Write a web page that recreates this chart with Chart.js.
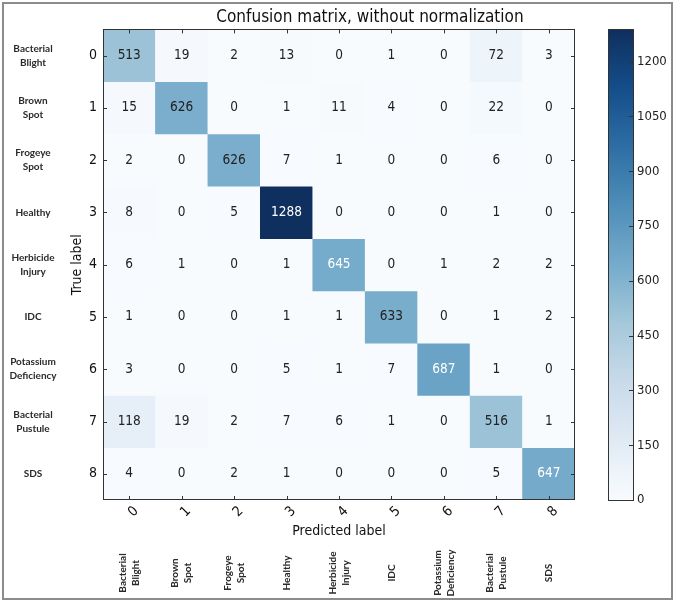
<!DOCTYPE html>
<html><head><meta charset="utf-8">
<script src="https://cdn.jsdelivr.net/npm/chart.js@4/dist/chart.umd.min.js"></script>
<style>html,body{margin:0;padding:0;background:#fff}</style>
</head><body>
<canvas id="c" width="677" height="606" style="width:677px;height:606px;display:block"></canvas>
<script>
const categories = ['0','1','2','3','4','5','6','7','8'];
const classNames = [['Bacterial','Blight'],['Brown','Spot'],['Frogeye','Spot'],['Healthy'],['Herbicide','Injury'],['IDC'],['Potassium','Deficiency'],['Bacterial','Pustule'],['SDS']];
const row0 = [513, 19, 2, 13, 0, 1, 0, 72, 3];
const row1 = [15, 626, 0, 1, 11, 4, 0, 22, 0];
const row2 = [2, 0, 626, 7, 1, 0, 0, 6, 0];
const row3 = [8, 0, 5, 1288, 0, 0, 0, 1, 0];
const row4 = [6, 1, 0, 1, 645, 0, 1, 2, 2];
const row5 = [1, 0, 0, 1, 1, 633, 0, 1, 2];
const row6 = [3, 0, 0, 5, 1, 7, 687, 1, 0];
const row7 = [118, 19, 2, 7, 6, 1, 0, 516, 1];
const row8 = [4, 0, 2, 1, 0, 0, 0, 5, 647];
const matrix = [row0,row1,row2,row3,row4,row5,row6,row7,row8];
const colorbarTicks = [0,150,300,450,600,750,900,1050,1200];
const chartTitle = 'Confusion matrix, without normalization';
const xTitle = 'Predicted label';
const yTitle = 'True label';

const maxVal = Math.max(...matrix.flat());
const FF = '"DejaVu Sans Condensed", "DejaVu Sans", sans-serif';
const BLUES = [[247,251,255],[222,235,247],[198,219,239],[158,202,225],[107,174,214],[66,146,198],[33,113,181],[8,81,156],[8,48,107]];
function blues(t){
  t = Math.max(0, Math.min(1, t));
  const p = t*8, i = Math.min(7, Math.floor(p)), f = p - i;
  const a = BLUES[i], b = BLUES[i+1];
  const c = a.map((v,k)=>v+(b[k]-v)*f);
  const g = 0.3*c[0]+0.59*c[1]+0.11*c[2], s = 0.8;
  return 'rgb(' + c.map(v=>Math.round(g+(v-g)*s)).join(',') + ')';
}

const datasets = matrix.map((row,i)=>({
  label: categories[i],
  data: row.map((v,j)=>({x: categories[j], y: [i-0.5, i+0.5], v: v})),
  backgroundColor: ctx => blues(ctx.raw.v / maxVal),
  borderWidth: 0,
  barPercentage: 1,
  categoryPercentage: 1,
  grouped: false
}));

const decor = {
  id: 'decor',
  afterDatasetsDraw(chart){
    const ctx = chart.ctx;
    const {left, right, top, bottom} = chart.chartArea;
    const xs = chart.scales.x, ys = chart.scales.y, cb = chart.scales.cb;
    ctx.save();
    // cell values
    ctx.font = '13.5px ' + FF;
    ctx.textAlign = 'center'; ctx.textBaseline = 'middle';
    chart.data.datasets.forEach((ds,i)=>{
      chart.getDatasetMeta(i).data.forEach((el,j)=>{
        const v = ds.data[j].v;
        const p = el.getProps(['x','y','base'], true);
        ctx.fillStyle = v > maxVal/2 ? '#ffffff' : '#222222';
        ctx.fillText(String(v), p.x, (p.y + p.base)/2);
      });
    });
    // axes frame
    ctx.strokeStyle = '#333'; ctx.lineWidth = 1;
    ctx.strokeRect(Math.round(left)+0.5, Math.round(top)+0.5, Math.round(right-left)-1, Math.round(bottom-top)-1);
    // inward ticks
    ctx.beginPath();
    categories.forEach((c,i)=>{
      const x = Math.round(xs.getPixelForValue(i))+0.5;
      ctx.moveTo(x, bottom); ctx.lineTo(x, bottom-4);
      ctx.moveTo(x, top); ctx.lineTo(x, top+4);
      const y = Math.round(ys.getPixelForValue(i))+0.5;
      ctx.moveTo(left, y); ctx.lineTo(left+4, y);
      ctx.moveTo(right, y); ctx.lineTo(right-4, y);
    });
    ctx.stroke();
    // colorbar
    const cbL = right + 33, cbR = right + 58;
    const yT = cb.getPixelForValue(maxVal), yB = cb.getPixelForValue(0);
    const grad = ctx.createLinearGradient(0, yB, 0, yT);
    for (let k=0;k<=32;k++) grad.addColorStop(k/32, blues(k/32));
    ctx.fillStyle = grad;
    ctx.fillRect(cbL, yT, cbR-cbL, yB-yT);
    ctx.strokeStyle = '#333';
    ctx.strokeRect(Math.round(cbL)+0.5, Math.round(yT)+0.5, Math.round(cbR-cbL), Math.round(yB-yT));
    ctx.beginPath();
    colorbarTicks.forEach(t=>{
      const y = Math.round(cb.getPixelForValue(t))+0.5;
      ctx.moveTo(cbR, y); ctx.lineTo(cbR-4, y);
    });
    ctx.stroke();
    // class names
    ctx.font = '700 10px Lato, "Open Sans", sans-serif';
    ctx.fillStyle = '#2a2a2a';
    classNames.forEach((lines,i)=>{
      const y = ys.getPixelForValue(i);
      lines.forEach((ln,k)=>ctx.fillText(ln, 33, y + (k-(lines.length-1)/2)*14));
    });
    classNames.forEach((lines,i)=>{
      const x = xs.getPixelForValue(i);
      ctx.save(); ctx.translate(x, 573); ctx.rotate(-Math.PI/2);
      lines.forEach((ln,k)=>ctx.fillText(ln, 0, (k-(lines.length-1)/2)*13));
      ctx.restore();
    });
    // outer frame
    ctx.strokeStyle = '#8c8c8c'; ctx.lineWidth = 2;
    ctx.strokeRect(3, 3, 669, 596);
    ctx.restore();
  }
};

new Chart(document.getElementById('c'), {
  type: 'bar',
  data: { labels: categories, datasets },
  plugins: [decor],
  options: {
    responsive: false,
    animation: false,
    events: [],
    layout: { padding: { left: 68, right: 5, top: 0, bottom: 60 } },
    plugins: {
      legend: { display: false },
      tooltip: { enabled: false },
      title: { display: true, text: chartTitle, color: '#111', font: { family: FF, size: 17, weight: 'normal' }, padding: { top: 7, bottom: 2 } },
    },
    scales: {
      x: {
        type: 'category', labels: categories, offset: true,
        grid: { display: false, drawTicks: false }, border: { display: false },
        ticks: { minRotation: 45, maxRotation: 45, autoSkip: false, padding: 3, labelOffset: 7, color: '#111', font: { family: FF, size: 14 } },
        title: { display: true, text: xTitle, color: '#111', font: { family: FF, size: 14 }, padding: { top: 0, bottom: 6 } },
        afterFit: s => { s.height = 46; }
      },
      y: {
        type: 'linear', min: -0.5, max: 8.5, reverse: true,
        grid: { display: false, drawTicks: false }, border: { display: false },
        afterBuildTicks: s => { s.ticks = categories.map((c,i)=>({value: i})); },
        ticks: { padding: 6, color: '#111', font: { family: FF, size: 14 }, callback: (v)=>categories[v] },
        title: { display: true, text: yTitle, color: '#111', font: { family: FF, size: 14 }, padding: { top: 1, bottom: 0 } },
        afterFit: s => { s.width = 35; }
      },
      cb: {
        axis: 'y', type: 'linear', position: 'right', min: 0, max: maxVal,
        grid: { display: false, drawTicks: true, tickLength: 62 }, border: { display: false },
        afterBuildTicks: s => { s.ticks = colorbarTicks.map(v=>({value: v})); },
        ticks: { padding: 0, color: '#222', font: { family: FF, size: 13 }, callback: v => String(v) },
        afterFit: s => { s.width = 97; }
      }
    }
  }
});
</script>
</body></html>
